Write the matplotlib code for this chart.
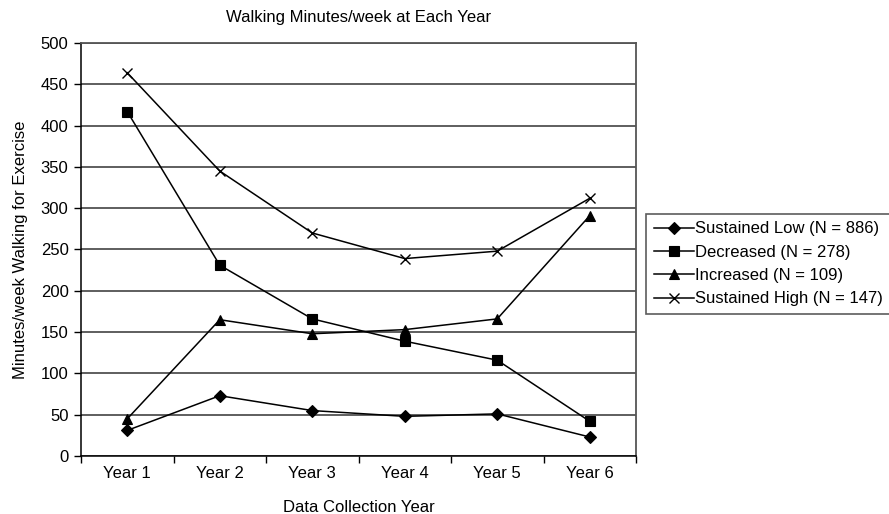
import matplotlib
matplotlib.use("Agg")
import matplotlib.pyplot as plt

years = ["Year 1", "Year 2", "Year 3", "Year 4", "Year 5", "Year 6"]
sustained_low = [31, 73, 55, 48, 51, 23]
decreased = [417, 231, 166, 139, 116, 42]
increased = [45, 165, 148, 153, 166, 291]
sustained_high = [464, 345, 270, 239, 248, 312]
series_labels = ["Sustained Low (N = 886)", "Decreased (N = 278)",
                 "Increased (N = 109)", "Sustained High (N = 147)"]
yticks = list(range(0, 501, 50))

plt.rcParams['font.family'] = ['Liberation Sans', 'DejaVu Sans']
FS = 12

fig = plt.figure(figsize=(8.89, 5.14), dpi=100)
ax = fig.add_axes([81/889, (514-456)/514, (636-81)/889, (456-43)/514])

x = list(range(len(years)))
styles = [("D", 6.5), ("s", 7.5), ("^", 6.5), ("x", 6.5)]
for vals, lab, (m, ms) in zip([sustained_low, decreased, increased, sustained_high],
                              series_labels, styles):
    ax.plot(x, vals, color="black", lw=1.1, marker=m, markersize=ms,
            markeredgewidth=1.0 if m == "x" else 0.8, label=lab, zorder=3)

ax.set_xlim(-0.5, len(years) - 0.5)
ax.set_ylim(0, 500)
ax.set_yticks(yticks)
ax.set_xticks(x)
ax.set_xticklabels(years)
ax.set_xticks([i - 0.5 for i in range(len(years) + 1)], minor=True)
ax.tick_params(axis="x", which="major", length=0, labelsize=FS, pad=7)
ax.tick_params(axis="x", which="minor", length=5, width=1, direction="out")
ax.tick_params(axis="y", length=5, width=1, direction="out", labelsize=FS, pad=4)
ax.yaxis.grid(True, color="#333333", lw=1.1)
ax.set_axisbelow(True)

for s in ["top", "right"]:
    ax.spines[s].set_color("#555555")
    ax.spines[s].set_linewidth(1.3)
for s in ["left", "bottom"]:
    ax.spines[s].set_color("black")
    ax.spines[s].set_linewidth(1.1)

ax.set_title("Walking Minutes/week at Each Year", fontsize=FS, pad=15)
ax.set_xlabel("Data Collection Year", fontsize=FS, labelpad=14)
ax.set_ylabel("Minutes/week Walking for Exercise", fontsize=FS, labelpad=9)

leg = fig.legend(loc="center left", bbox_to_anchor=(646/889, 1 - 264/514),
                 frameon=True, fancybox=False, edgecolor="#333333",
                 fontsize=FS, handlelength=2.4, handletextpad=0.1,
                 borderpad=0.45, labelspacing=0.5, borderaxespad=0)
leg.get_frame().set_linewidth(1.2)

fig.savefig("out.png", dpi=100)
